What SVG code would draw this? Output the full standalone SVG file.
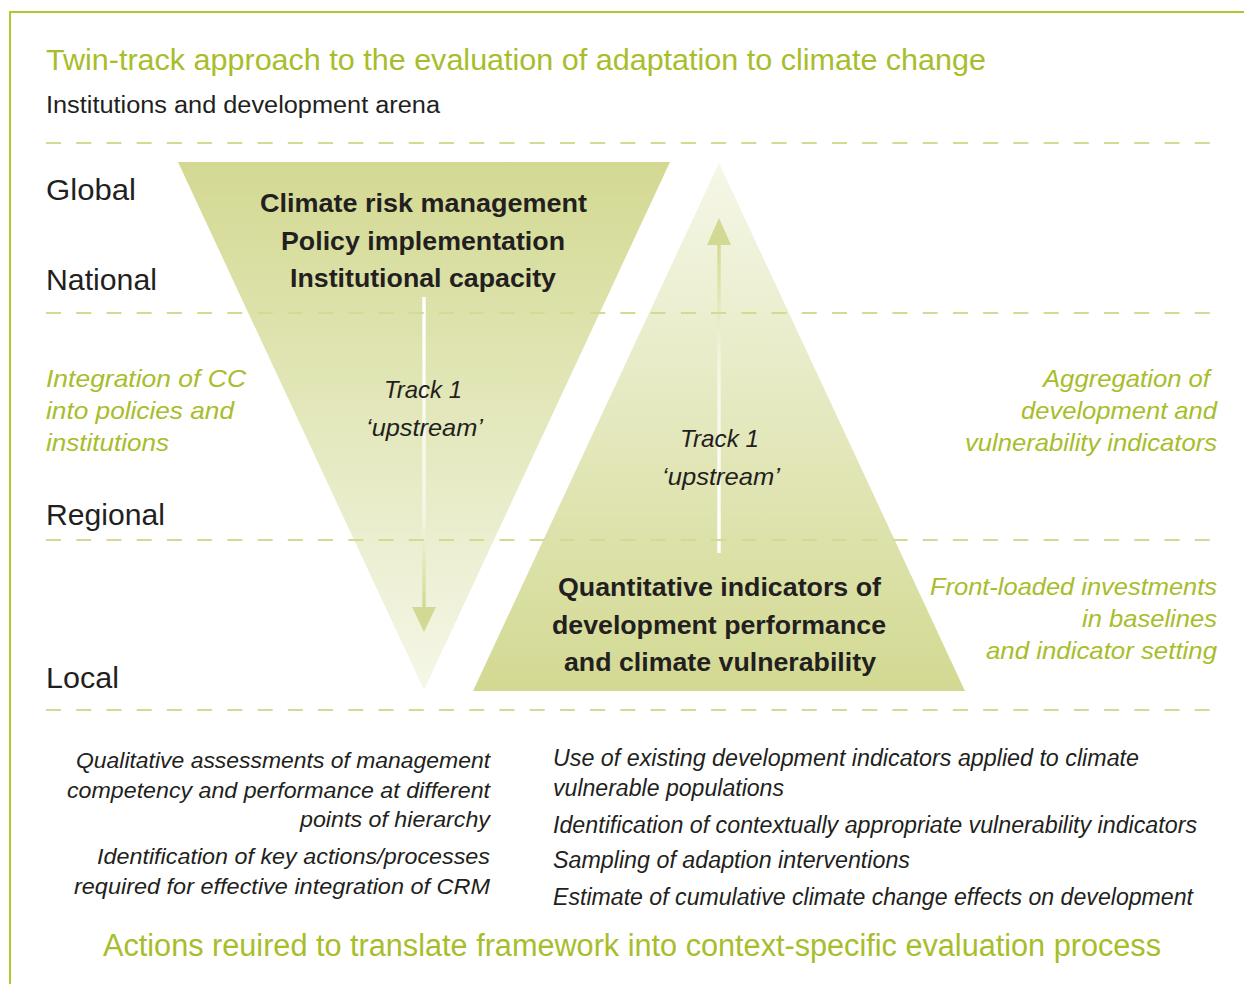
<svg xmlns="http://www.w3.org/2000/svg" width="1244" height="984" viewBox="0 0 1244 984">
<defs>
<style>
text{font-family:"Liberation Sans",Arial,Helvetica,sans-serif;}
.blk{fill:#231f20;}
.grn{fill:#a8bd2b;}
.it{font-style:italic;}
.bd{font-weight:bold;}
.dash{stroke:#d2da93;stroke-width:2;stroke-dasharray:15 15.23;fill:none;}
.frame{stroke:#b5c431;stroke-width:2;fill:none;}
</style>
<linearGradient id="gDown" x1="0" y1="162" x2="0" y2="690" gradientUnits="userSpaceOnUse">
<stop offset="0" stop-color="#d3d992"/>
<stop offset="1" stop-color="#f5f7e8"/>
</linearGradient>
<linearGradient id="gUp" x1="0" y1="163" x2="0" y2="691" gradientUnits="userSpaceOnUse">
<stop offset="0" stop-color="#f5f7e8"/>
<stop offset="1" stop-color="#d3d992"/>
</linearGradient>
<linearGradient id="aDown" x1="0" y1="297" x2="0" y2="610" gradientUnits="userSpaceOnUse">
<stop offset="0" stop-color="#ffffff"/>
<stop offset="0.7" stop-color="#f4f6e4"/>
<stop offset="1" stop-color="#d3d992"/>
</linearGradient>
<linearGradient id="aUp" x1="0" y1="553" x2="0" y2="240" gradientUnits="userSpaceOnUse">
<stop offset="0" stop-color="#ffffff"/>
<stop offset="0.6" stop-color="#f4f6e4"/>
<stop offset="1" stop-color="#d3d992"/>
</linearGradient>
</defs>
<rect width="1244" height="984" fill="#ffffff"/>
<path class="frame" d="M10,984 V12 H1244"/>

<g id="header">
<text class="grn" x="46" y="70" font-size="30" textLength="940" lengthAdjust="spacingAndGlyphs">Twin-track approach to the evaluation of adaptation to climate change</text>
<text class="blk" x="46" y="113" font-size="23" textLength="394" lengthAdjust="spacingAndGlyphs">Institutions and development arena</text>
</g>

<g id="levels">
<text class="blk" x="46" y="200" font-size="29" textLength="90" lengthAdjust="spacingAndGlyphs">Global</text>
<text class="blk" x="46" y="290" font-size="29" textLength="111" lengthAdjust="spacingAndGlyphs">National</text>
<text class="blk" x="46" y="525" font-size="29" textLength="119" lengthAdjust="spacingAndGlyphs">Regional</text>
<text class="blk" x="46" y="688" font-size="29" textLength="73" lengthAdjust="spacingAndGlyphs">Local</text>
</g>

<g id="track-down">
<polygon points="178,162 670,162 424,690" fill="url(#gDown)"/>
<line x1="424" y1="297" x2="424" y2="610" stroke="url(#aDown)" stroke-width="3.5"/>
<polygon points="412,607 436,607 424,632" fill="#d3d992"/>
<text class="blk bd" x="260" y="212" font-size="26" textLength="327" lengthAdjust="spacingAndGlyphs">Climate risk management</text>
<text class="blk bd" x="281" y="250" font-size="26" textLength="284" lengthAdjust="spacingAndGlyphs">Policy implementation</text>
<text class="blk bd" x="290" y="287" font-size="26" textLength="266" lengthAdjust="spacingAndGlyphs">Institutional capacity</text>
<text class="blk it" x="384" y="398" font-size="24" textLength="78" lengthAdjust="spacingAndGlyphs">Track 1</text>
<text class="blk it" x="366" y="436" font-size="24" textLength="117" lengthAdjust="spacingAndGlyphs">‘upstream’</text>
</g>

<g id="track-up">
<polygon points="719,163 965,691 473,691" fill="url(#gUp)"/>
<line x1="719" y1="553" x2="719" y2="242" stroke="url(#aUp)" stroke-width="3.5"/>
<polygon points="707,245 731,245 719,218" fill="#d3d992"/>
<text class="blk it" x="680" y="447" font-size="24" textLength="79" lengthAdjust="spacingAndGlyphs">Track 1</text>
<text class="blk it" x="662" y="485" font-size="24" textLength="118" lengthAdjust="spacingAndGlyphs">‘upstream’</text>
<text class="blk bd" x="558" y="596" font-size="26" textLength="323" lengthAdjust="spacingAndGlyphs">Quantitative indicators of</text>
<text class="blk bd" x="552" y="634" font-size="26" textLength="334" lengthAdjust="spacingAndGlyphs">development performance</text>
<text class="blk bd" x="564" y="671" font-size="26" textLength="312" lengthAdjust="spacingAndGlyphs">and climate vulnerability</text>
</g>

<g id="connectors">
<line class="dash" x1="46" y1="143" x2="1212" y2="143"/>
<line class="dash" x1="46" y1="313" x2="1212" y2="313"/>
<line class="dash" x1="46" y1="540" x2="1212" y2="540"/>
<line class="dash" x1="46" y1="710" x2="1212" y2="710"/>
</g>

<g id="side-left">
<text class="grn it" x="46" y="387" font-size="24" textLength="200" lengthAdjust="spacingAndGlyphs">Integration of CC</text>
<text class="grn it" x="46" y="419" font-size="24" textLength="188" lengthAdjust="spacingAndGlyphs">into policies and</text>
<text class="grn it" x="46" y="451" font-size="24" textLength="123" lengthAdjust="spacingAndGlyphs">institutions</text>
</g>

<g id="side-right-top">
<text class="grn it" x="1043" y="387" font-size="24" textLength="167" lengthAdjust="spacingAndGlyphs">Aggregation of</text>
<text class="grn it" x="1021" y="419" font-size="24" textLength="196" lengthAdjust="spacingAndGlyphs">development and</text>
<text class="grn it" x="965" y="451" font-size="24" textLength="252" lengthAdjust="spacingAndGlyphs">vulnerability indicators</text>
</g>

<g id="side-right-bottom">
<text class="grn it" x="930" y="595" font-size="24" textLength="287" lengthAdjust="spacingAndGlyphs">Front-loaded investments</text>
<text class="grn it" x="1082" y="627" font-size="24" textLength="135" lengthAdjust="spacingAndGlyphs">in baselines</text>
<text class="grn it" x="986" y="659" font-size="24" textLength="231" lengthAdjust="spacingAndGlyphs">and indicator setting</text>
</g>

<g id="actions-left">
<text class="blk it" x="76" y="768" font-size="22" textLength="414" lengthAdjust="spacingAndGlyphs">Qualitative assessments of management</text>
<text class="blk it" x="67" y="798" font-size="22" textLength="423" lengthAdjust="spacingAndGlyphs">competency and performance at different</text>
<text class="blk it" x="300" y="827" font-size="22" textLength="190" lengthAdjust="spacingAndGlyphs">points of hierarchy</text>
<text class="blk it" x="97" y="864" font-size="22" textLength="393" lengthAdjust="spacingAndGlyphs">Identification of key actions/processes</text>
<text class="blk it" x="74" y="894" font-size="22" textLength="416" lengthAdjust="spacingAndGlyphs">required for effective integration of CRM</text>
</g>

<g id="actions-right">
<text class="blk it" x="553" y="766" font-size="23" textLength="586" lengthAdjust="spacingAndGlyphs">Use of existing development indicators applied to climate</text>
<text class="blk it" x="553" y="796" font-size="23" textLength="231" lengthAdjust="spacingAndGlyphs">vulnerable populations</text>
<text class="blk it" x="553" y="833" font-size="23" textLength="644" lengthAdjust="spacingAndGlyphs">Identification of contextually appropriate vulnerability indicators</text>
<text class="blk it" x="553" y="868" font-size="23" textLength="357" lengthAdjust="spacingAndGlyphs">Sampling of adaption interventions</text>
<text class="blk it" x="553" y="905" font-size="23" textLength="640" lengthAdjust="spacingAndGlyphs">Estimate of cumulative climate change effects on development</text>
</g>

<g id="footer">
<text class="grn" x="103" y="956" font-size="31" textLength="1058" lengthAdjust="spacingAndGlyphs">Actions reuired to translate framework into context-specific evaluation process</text>
</g>
</svg>
